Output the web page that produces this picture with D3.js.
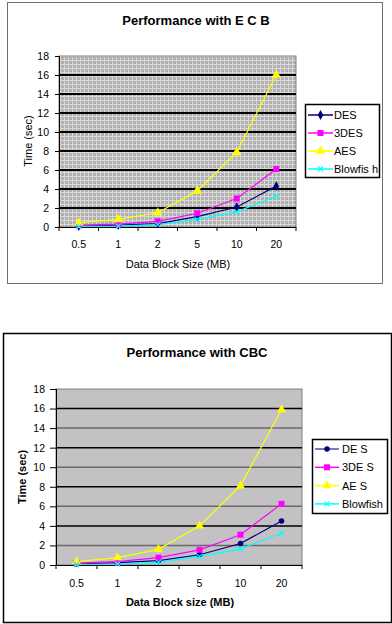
<!DOCTYPE html>
<html><head><meta charset="utf-8">
<script src="https://cdn.jsdelivr.net/npm/d3@7"></script>
<style>body{margin:0;background:#fff}svg{display:block}text{font-family:"Liberation Sans",Arial,sans-serif}</style>
</head><body><svg id="c" width="392" height="624"></svg>
<script>
const categories = ["0.5","1","2","5","10","20"];
const yTicks = [0,2,4,6,8,10,12,14,16,18];
const seriesNames = ["DES","3DES","AES","Blowfish"];
const ecbLegendLabels = ["DES","3DES","AES","Blowfis h"];
const cbcLegendLabels = ["DE S","3DE S","AE S","Blowfish"];
const ecbDES      = [0.1, 0.2, 0.35, 1.1, 2.1, 4.3];
const ecb3DES     = [0.2, 0.3, 0.6, 1.45, 3.0, 6.1];
const ecbAES      = [0.45, 0.8, 1.5, 3.8, 7.85, 16.0];
const ecbBlowfish = [0.05, 0.1, 0.25, 0.8, 1.6, 3.25];
const cbcDES      = [0.1, 0.25, 0.45, 1.05, 2.2, 4.5];
const cbc3DES     = [0.2, 0.35, 0.75, 1.55, 3.1, 6.25];
const cbcAES      = [0.35, 0.75, 1.6, 4.0, 8.1, 15.9];
const cbcBlowfish = [0.05, 0.1, 0.3, 0.85, 1.65, 3.25];

const colors = ["#000080","#FF00FF","#FFFF00","#00FFFF"];

const svg = d3.select("#c");
const defs = svg.append("defs");
const pat = defs.append("pattern").attr("id","hatch").attr("patternUnits","userSpaceOnUse")
  .attr("width",4).attr("height",4);
pat.append("rect").attr("width",4).attr("height",4).attr("fill","#b0b0b0");
pat.append("rect").attr("x",0).attr("y",0).attr("width",4).attr("height",1).attr("fill","#d8d8d8");
pat.append("rect").attr("x",0).attr("y",0).attr("width",1).attr("height",4).attr("fill","#d8d8d8");

function marker(g, type, x, y, color, s){
  if(type==="x"){
    g.append("path").attr("d",`M${x-2.5},${y-2.5}L${x+2.5},${y+2.5}M${x-2.5},${y+2.5}L${x+2.5},${y-2.5}`)
      .attr("stroke",color).attr("stroke-width",1.2).attr("fill","none");
  } else {
    const t = type==="diamond"? d3.symbolDiamond : type==="square"? d3.symbolSquare : type==="circle"? d3.symbolCircle : d3.symbolTriangle;
    g.append("path").attr("d",d3.symbol().type(t).size(s)).attr("transform",`translate(${x},${y})`).attr("fill",color);
  }
}

function chart(cfg){
  const g = svg.append("g");
  g.append("rect").attr("x",cfg.box[0]+0.5).attr("y",cfg.box[1]+0.5).attr("width",cfg.box[2]-cfg.box[0])
    .attr("height",cfg.box[3]-cfg.box[1]).attr("fill","#fff").attr("stroke",cfg.boxStroke).attr("stroke-width",cfg.boxW);
  const x = d3.scaleBand().domain(categories).range([cfg.plot[0],cfg.plot[1]]);
  const y = d3.scaleLinear().domain([0,18]).range([cfg.plot[3],cfg.plot[2]]);
  const [L,R,T,B] = cfg.plot;
  g.append("rect").attr("x",L).attr("y",T).attr("width",R-L).attr("height",B-T).attr("fill",cfg.bg)
    .attr("stroke","#808080").attr("stroke-width",1);
  yTicks.filter(v=>v>0 && v<18).forEach((v,i)=>{
    g.append("line").attr("x1",L).attr("x2",R).attr("y1",y(v)).attr("y2",y(v))
      .attr("stroke", cfg.alt && (v%4===2) ? "#6a6a6a" : "#000").attr("stroke-width",cfg.gridW);
  });
  const ya = g.append("g").attr("transform",`translate(${L},0)`)
    .call(d3.axisLeft(y).tickValues(yTicks).tickSize(cfg.tick).tickPadding(cfg.ypad).tickFormat(d3.format("d")));
  const xa = g.append("g").attr("transform",`translate(0,${B})`)
    .call(d3.axisBottom(x).tickSize(0).tickPadding(cfg.xpad));
  [ya,xa].forEach(a=>{a.select(".domain").attr("stroke","#000");a.selectAll("text").attr("font-size",10.5).attr("fill","#000");a.selectAll("line").attr("stroke","#000");});
  const bounds = categories.map(c=>x(c)).concat([R]);
  bounds.forEach(bx=>g.append("line").attr("x1",bx).attr("x2",bx).attr("y1",B).attr("y2",B+4).attr("stroke","#000"));
  xa.select(".domain").attr("d",`M${L},0.5H${R}`);
  ya.select(".domain").attr("d",`M0.5,${T}V${B}`);
  const data = cfg.data;
  const line = d3.line().x((d,i)=>x(categories[i])+x.bandwidth()/2).y(d=>y(d));
  data.forEach((s,k)=>{
    g.append("path").datum(s).attr("d",line).attr("fill","none").attr("stroke",colors[k]).attr("stroke-width",1.2);
  });
  data.forEach((s,k)=>{
    s.forEach((v,i)=>marker(g,cfg.symbols[k],x(categories[i])+x.bandwidth()/2,y(v),colors[k],cfg.ms[k]));
  });
  g.append("text").attr("x",cfg.title[0]).attr("y",cfg.title[1]).attr("text-anchor","middle")
    .attr("font-size",13).attr("font-weight","bold").text(cfg.titleText);
  g.append("text").attr("x",cfg.xt[0]).attr("y",cfg.xt[1]).attr("text-anchor","middle")
    .attr("font-size",11).attr("font-weight",cfg.axisBold?"bold":"normal").text(cfg.xTitle);
  g.append("text").attr("transform",`translate(${cfg.yt[0]},${cfg.yt[1]}) rotate(-90)`).attr("text-anchor","middle")
    .attr("font-size",11).attr("font-weight",cfg.axisBold?"bold":"normal").text("Time (sec)");
  const lg = cfg.legend;
  g.append("rect").attr("x",lg.box[0]+0.5).attr("y",lg.box[1]+0.5).attr("width",lg.box[2]-lg.box[0]).attr("height",lg.box[3]-lg.box[1])
    .attr("fill","#fff").attr("stroke","#000").attr("stroke-width",lg.bw);
  cfg.labels.forEach((name,k)=>{
    const yy = lg.y0 + k*lg.dy;
    g.append("line").attr("x1",lg.l0).attr("x2",lg.l1).attr("y1",yy).attr("y2",yy).attr("stroke",lg.lineColors? lg.lineColors[k]:colors[k]).attr("stroke-width",1.5);
    marker(g,cfg.symbols[k],(lg.l0+lg.l1)/2,yy,colors[k],cfg.ms[k]);
    g.append("text").attr("x",lg.tx).attr("y",yy+4).attr("font-size",11).text(name);
  });
}

chart({
  box:[7,2,382,283], boxStroke:"#707070", boxW:1,
  plot:[59,296,56,227], bg:"url(#hatch)", gridW:2, alt:false, tick:4, ypad:6, xpad:14,
  data:[ecbDES,ecb3DES,ecbAES,ecbBlowfish], ms:[28,36,40,0], symbols:["diamond","square","triangle","x"],
  title:[196,25], titleText:"Performance with E C B",
  xt:[178,268], xTitle:"Data Block Size (MB)", yt:[32,141], axisBold:false,
  labels:ecbLegendLabels,
  legend:{box:[305,104,379,177], y0:115, dy:18, l0:308, l1:333, tx:334, bw:1.5}
});
chart({
  box:[3,333,391,622], boxStroke:"#000", boxW:1.5,
  plot:[56,302,389,565], bg:"#C3C1C3", gridW:1.5, alt:true, tick:6, ypad:5, xpad:15,
  data:[cbcDES,cbc3DES,cbcAES,cbcBlowfish], ms:[24,36,36,0], symbols:["circle","square","triangle","x"],
  title:[197,357], titleText:"Performance with CBC",
  xt:[180,606], xTitle:"Data Block size (MB)", yt:[26,477], axisBold:true,
  labels:cbcLegendLabels,
  legend:{box:[312,439,387,513], y0:449, dy:18.3, l0:315, l1:339, tx:342, bw:1.5, lineColors:["#5050a0","#FF00FF","#FFFF00","#00FFFF"]}
});
</script></body></html>
